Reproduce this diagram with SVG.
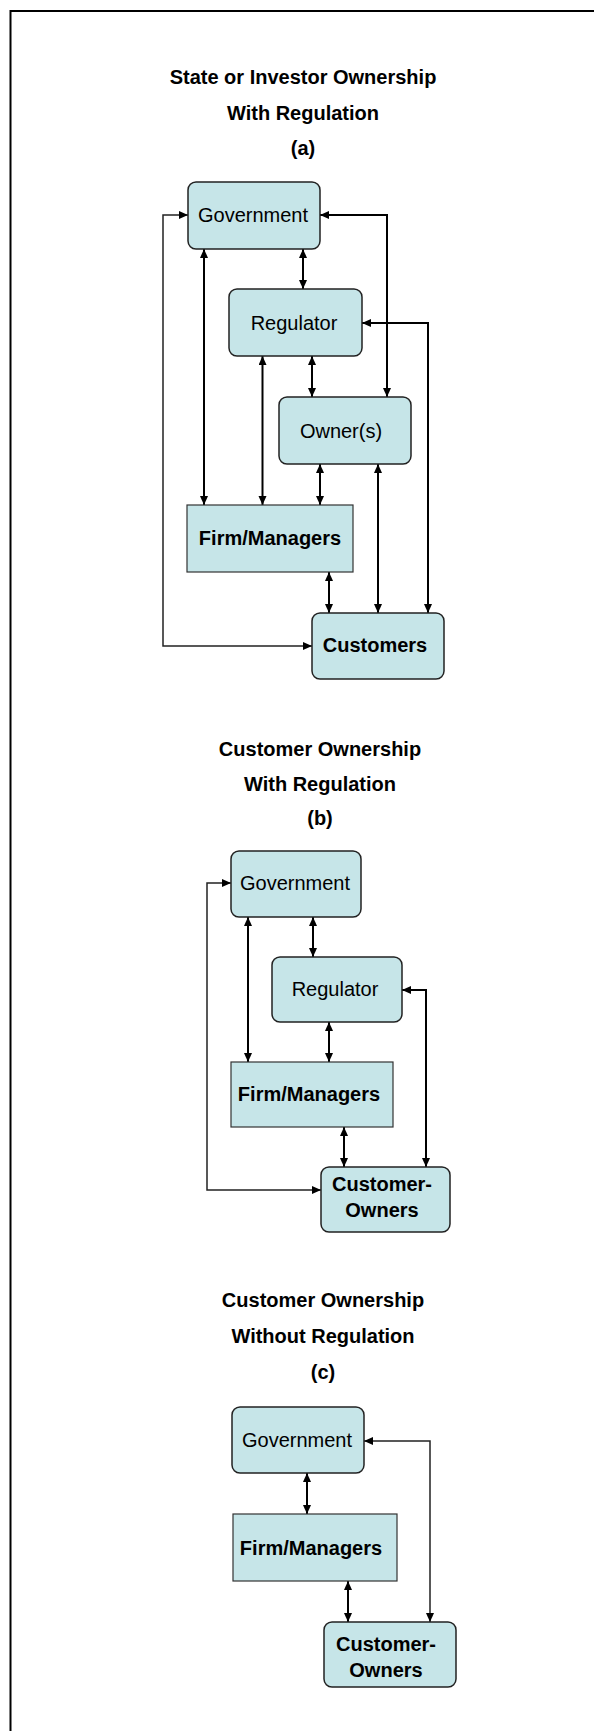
<svg xmlns="http://www.w3.org/2000/svg" width="594" height="1731" viewBox="0 0 594 1731">
<style>
.bg{fill:#ffffff}
.frame{fill:none;stroke:#000;stroke-width:2}
.box{fill:#c6e5e8;stroke:#222;stroke-width:1.5}
.sq{fill:#c6e5e8;stroke:#333;stroke-width:1.2}
.t{font-family:"Liberation Sans",Arial,sans-serif;font-size:20px;fill:#000;text-anchor:middle}
.b{font-weight:bold}
.title{font-family:"Liberation Sans",Arial,sans-serif;font-size:20px;font-weight:bold;fill:#000;text-anchor:middle}
.c{fill:none;stroke:#000;stroke-width:2;marker-start:url(#ah);marker-end:url(#ah)}
.thin{stroke-width:1.5;stroke:#222}
</style>
<defs>
<marker id="ah" markerUnits="userSpaceOnUse" markerWidth="10" markerHeight="9" refX="9" refY="4" orient="auto-start-reverse" viewBox="0 0 10 9">
<path d="M0,0 L9,4 L0,8 z" fill="#000"/>
</marker>
</defs>
<rect class="bg" x="0" y="0" width="594" height="1731"/>
<path class="frame" d="M10.5,1731 V11 H594"/>

<g id="titles">
<text class="title" x="303" y="84">State or Investor Ownership</text>
<text class="title" x="303" y="120">With Regulation</text>
<text class="title" x="303" y="155">(a)</text>
<text class="title" x="320" y="756">Customer Ownership</text>
<text class="title" x="320" y="791">With Regulation</text>
<text class="title" x="320" y="825">(b)</text>
<text class="title" x="323" y="1307">Customer Ownership</text>
<text class="title" x="323" y="1343">Without Regulation</text>
<text class="title" x="323" y="1379">(c)</text>
</g>

<g id="connectors">
<path class="c thin" d="M188,215 H163 V646 H312"/>
<path class="c" d="M204,249 V505"/>
<path class="c" d="M303,249 V289"/>
<path class="c" d="M320,215 H387 V397"/>
<path class="c" d="M262.5,356 V505"/>
<path class="c" d="M312,356 V397"/>
<path class="c" d="M362,323 H428 V613"/>
<path class="c" d="M320,464 V505"/>
<path class="c" d="M378,464 V613"/>
<path class="c" d="M329,572 V613"/>

<path class="c thin" d="M231,883 H207 V1190 H321"/>
<path class="c" d="M248,917 V1062"/>
<path class="c" d="M313,917 V957"/>
<path class="c" d="M402,990 H426 V1167"/>
<path class="c" d="M329,1022 V1062"/>
<path class="c" d="M344,1127 V1167"/>

<path class="c" d="M307,1473 V1514"/>
<path class="c" d="M348,1581 V1622"/>
<path class="c thin" d="M364,1441 H430 V1622"/>
</g>

<g id="a-government"><rect class="box" x="188" y="182" width="132" height="67" rx="8"/><text class="t" x="253" y="222">Government</text></g>
<g id="a-regulator"><rect class="box" x="229" y="289" width="133" height="67" rx="8"/><text class="t" x="294" y="330">Regulator</text></g>
<g id="a-owners"><rect class="box" x="279" y="397" width="132" height="67" rx="8"/><text class="t" x="341" y="438">Owner(s)</text></g>
<g id="a-firm"><rect class="sq" x="187" y="505" width="166" height="67"/><text class="t b" x="270" y="545">Firm/Managers</text></g>
<g id="a-customers"><rect class="box" x="312" y="613" width="132" height="66" rx="8"/><text class="t b" x="375" y="652">Customers</text></g>

<g id="b-government"><rect class="box" x="231" y="851" width="130" height="66" rx="8"/><text class="t" x="295" y="890">Government</text></g>
<g id="b-regulator"><rect class="box" x="272" y="957" width="130" height="65" rx="8"/><text class="t" x="335" y="996">Regulator</text></g>
<g id="b-firm"><rect class="sq" x="231" y="1062" width="162" height="65"/><text class="t b" x="309" y="1101">Firm/Managers</text></g>
<g id="b-customer-owners"><rect class="box" x="321" y="1167" width="129" height="65" rx="8"/><text class="t b" x="382" y="1191">Customer-</text><text class="t b" x="382" y="1217">Owners</text></g>

<g id="c-government"><rect class="box" x="232" y="1407" width="132" height="66" rx="8"/><text class="t" x="297" y="1447">Government</text></g>
<g id="c-firm"><rect class="sq" x="233" y="1514" width="164" height="67"/><text class="t b" x="311" y="1555">Firm/Managers</text></g>
<g id="c-customer-owners"><rect class="box" x="324" y="1622" width="132" height="65" rx="8"/><text class="t b" x="386" y="1651">Customer-</text><text class="t b" x="386" y="1677">Owners</text></g>
</svg>
